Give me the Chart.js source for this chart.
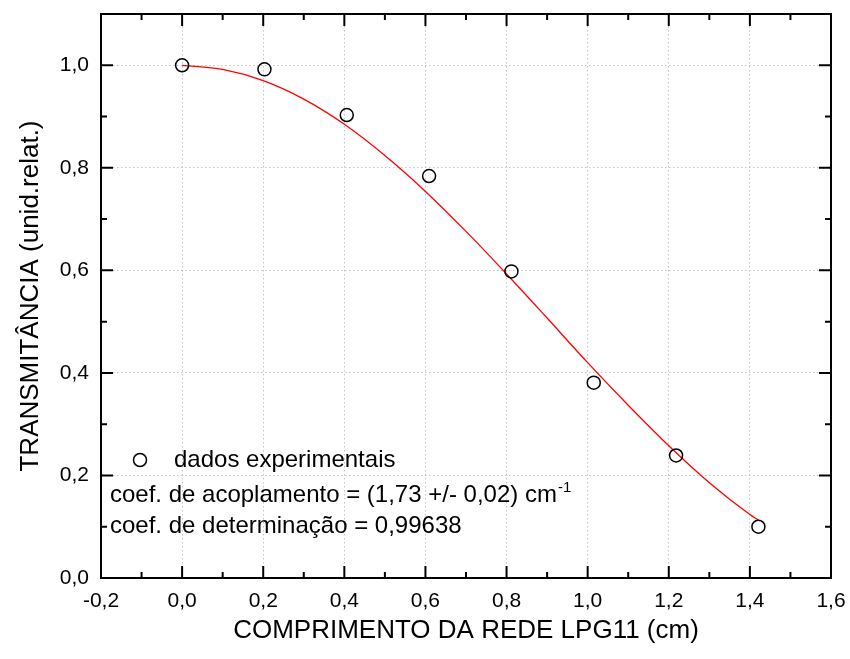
<!DOCTYPE html>
<html>
<head>
<meta charset="utf-8">
<script src="https://cdn.jsdelivr.net/npm/chart.js@4"></script>
<style>
  html, body { margin: 0; padding: 0; background: #fff; }
  #wrap { width: 850px; height: 659px; }
</style>
</head>
<body>
<div id="wrap"><canvas id="lpgChart" width="850" height="659"></canvas></div>
<script>
// measured points (x in cm, transmittance)
const lengthCm = [0.0, 0.203, 0.406, 0.609, 0.812, 1.015, 1.218, 1.421];
const transmit = [1.000, 0.992, 0.903, 0.784, 0.598, 0.381, 0.239, 0.100];

// red fit curve
const fitX = [0.0, 0.1, 0.2, 0.3, 0.4, 0.5, 0.6, 0.7, 0.8, 0.9, 1.0, 1.1, 1.2, 1.3, 1.4, 1.421];
const fitY = [1.000, 0.992, 0.970, 0.934, 0.885, 0.824, 0.754, 0.676, 0.593, 0.507, 0.420, 0.337, 0.258, 0.186, 0.124, 0.113];

const xTicks = [-0.2, 0.0, 0.2, 0.4, 0.6, 0.8, 1.0, 1.2, 1.4, 1.6];
const yTicks = [0.0, 0.2, 0.4, 0.6, 0.8, 1.0];

const FONT = "Arial, 'Liberation Sans', Helvetica, sans-serif";
const fmt = v => v.toFixed(1).replace(".", ",");

// frame, inward ticks and the text box
const framePlugin = {
    id: "framePlugin",
    afterDraw(chart) {
        const ctx = chart.ctx;
        const a = chart.chartArea;
        const xs = chart.scales.x;
        const ys = chart.scales.y;
        ctx.save();
        ctx.strokeStyle = "#000";
        ctx.lineWidth = 2;
        ctx.strokeRect(a.left, a.top, a.right - a.left, a.bottom - a.top);

        ctx.beginPath();
        for (let i = 0; i < xTicks.length; i++) {
            const px = xs.getPixelForValue(xTicks[i]);
            ctx.moveTo(px, a.bottom); ctx.lineTo(px, a.bottom - 12);
            ctx.moveTo(px, a.top); ctx.lineTo(px, a.top + 12);
            if (i < xTicks.length - 1) {
                const mx = xs.getPixelForValue((xTicks[i] + xTicks[i + 1]) / 2);
                ctx.moveTo(mx, a.bottom); ctx.lineTo(mx, a.bottom - 6);
                ctx.moveTo(mx, a.top); ctx.lineTo(mx, a.top + 6);
            }
        }
        for (let i = 0; i < yTicks.length; i++) {
            const py = ys.getPixelForValue(yTicks[i]);
            ctx.moveTo(a.left, py); ctx.lineTo(a.left + 12, py);
            ctx.moveTo(a.right, py); ctx.lineTo(a.right - 12, py);
            const my = ys.getPixelForValue(yTicks[i] + 0.1);
            ctx.moveTo(a.left, my); ctx.lineTo(a.left + 6, my);
            ctx.moveTo(a.right, my); ctx.lineTo(a.right - 6, my);
        }
        ctx.stroke();

        // legend + fit info
        ctx.fillStyle = "#000";
        ctx.textBaseline = "alphabetic";
        ctx.textAlign = "left";
        ctx.lineWidth = 1.5;
        ctx.beginPath();
        ctx.arc(140, 460, 6.5, 0, Math.PI * 2);
        ctx.stroke();
        ctx.font = "24px " + FONT;
        ctx.fillText("dados experimentais", 174, 467);
        const l2 = "coef. de acoplamento = (1,73 +/- 0,02) cm";
        ctx.fillText(l2, 110, 502);
        const w2 = ctx.measureText(l2).width;
        ctx.font = "15px " + FONT;
        ctx.fillText("-1", 110 + w2 + 1, 492);
        ctx.font = "24px " + FONT;
        ctx.fillText("coef. de determinação = 0,99638", 110, 533);
        ctx.restore();
    }
};

new Chart(document.getElementById("lpgChart"), {
    type: "scatter",
    data: {
        datasets: [
            {
                label: "ajuste",
                data: fitX.map((x, i) => ({ x: x, y: fitY[i] })),
                showLine: true,
                borderColor: "#ff0000",
                borderWidth: 1.3,
                pointRadius: 0,
                cubicInterpolationMode: "monotone",
                order: 2
            },
            {
                label: "dados experimentais",
                data: lengthCm.map((x, i) => ({ x: x, y: transmit[i] })),
                pointStyle: "circle",
                pointRadius: 6.5,
                pointBackgroundColor: "rgba(255,255,255,0)",
                pointBorderColor: "#000",
                pointBorderWidth: 1.5,
                order: 1
            }
        ]
    },
    plugins: [framePlugin],
    options: {
        responsive: false,
        animation: false,
        layout: { padding: { left: 0, right: 19, top: 14, bottom: 0 } },
        plugins: {
            legend: { display: false },
            tooltip: { enabled: false }
        },
        scales: {
            x: {
                type: "linear",
                min: -0.2,
                max: 1.6,
                afterBuildTicks: s => { s.ticks = xTicks.map(v => ({ value: v })); },
                afterFit: s => { s.height = 81; s.paddingLeft = 0; s.paddingRight = 0; },
                grid: { color: "#c4c4c4", lineWidth: 1, drawTicks: false },
                border: { display: false, dash: [1.5, 2.5] },
                ticks: {
                    padding: 11,
                    color: "#000",
                    font: { family: FONT, size: 21 },
                    callback: v => fmt(v)
                },
                title: {
                    display: true,
                    text: "COMPRIMENTO DA REDE LPG11 (cm)",
                    color: "#000",
                    font: { family: FONT, size: 26 },
                    padding: { top: 0, bottom: 13 }
                }
            },
            y: {
                type: "linear",
                min: 0,
                max: 1.1,
                afterBuildTicks: s => { s.ticks = yTicks.map(v => ({ value: v })); },
                afterFit: s => { s.width = 101; s.paddingTop = 0; s.paddingBottom = 0; },
                grid: { color: "#c4c4c4", lineWidth: 1, drawTicks: false },
                border: { display: false, dash: [1.5, 2.5] },
                ticks: {
                    padding: 12,
                    color: "#000",
                    font: { family: FONT, size: 21 },
                    callback: v => fmt(v)
                },
                title: {
                    display: true,
                    text: "TRANSMITÂNCIA (unid.relat.)",
                    color: "#000",
                    font: { family: FONT, size: 26 },
                    padding: { top: 15, bottom: 0 }
                }
            }
        }
    }
});
</script>
</body>
</html>
